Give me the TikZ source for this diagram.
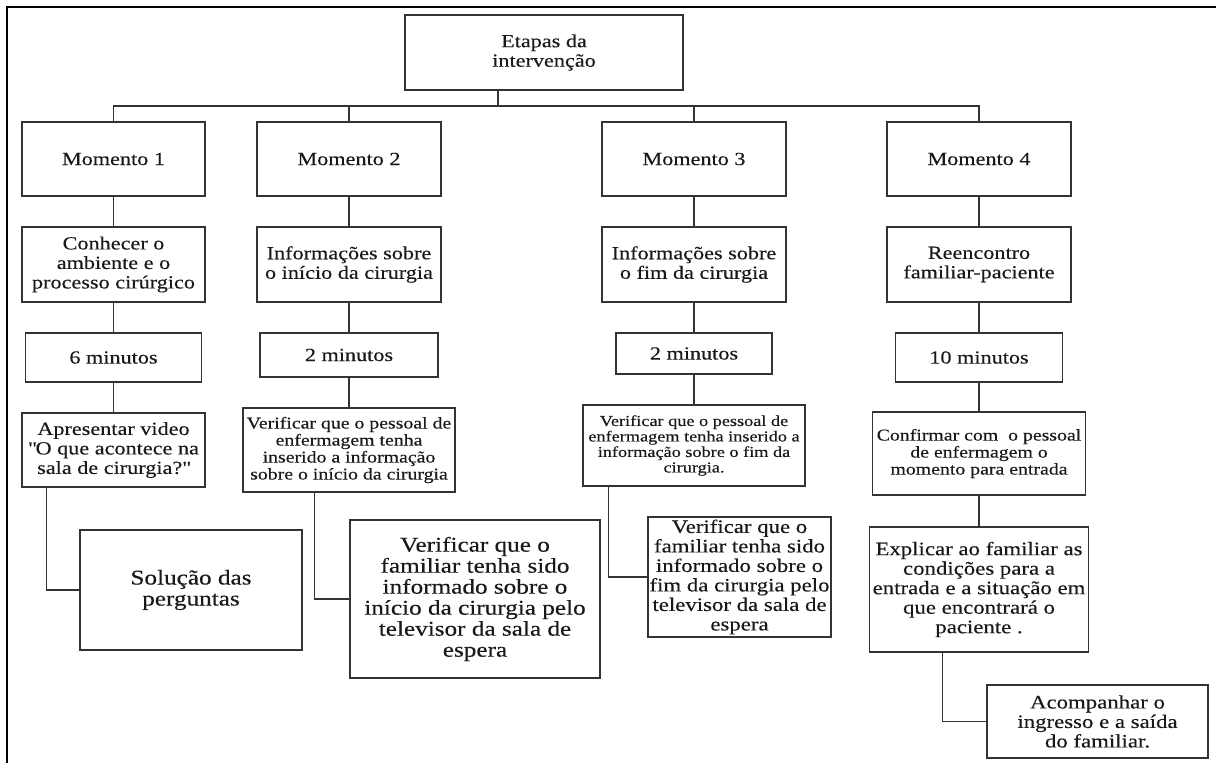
\documentclass[tikz,border=0pt]{standalone}
\usepackage{fontspec}
\setmainfont[FakeStretch=1.2, FakeBold=0.3]{Liberation Serif}
\usepackage{tikz}
\usetikzlibrary{positioning, calc}

\setlength{\lineskiplimit}{-100pt}
\newcommand{\txtbase}{\fontsize{18.5}{19.5}\selectfont}
\newcommand{\txtmed}{\fontsize{16.5}{17}\selectfont}
\newcommand{\txtsmall}{\fontsize{15.2}{15.5}\selectfont}
\newcommand{\txtmid}{\fontsize{19}{19.5}\selectfont}
\newcommand{\txtlarge}{\fontsize{21}{21}\selectfont}
\newcommand{\dq}{{\XeTeXglyph\XeTeXglyphindex "quotedbl"\relax}}

\begin{document}
\begin{tikzpicture}[x=1pt, y=-1pt,
    box/.style={draw=black!80, line width=1.3pt, align=center, inner sep=0pt, text=black!90, font=\txtbase},
    wire/.style={draw=black!80, line width=1.3pt}]
      \useasboundingbox (0,0) rectangle (1216,763);
      \draw[line width=2pt] (7,763) -- (7,7) -- (1216,7);

      \node[box, minimum width=278, minimum height=75] (root) at (544,52.5) {Etapas da\\intervenção};
      \coordinate (bus) at (0,106);

      \node[box, minimum width=183, minimum height=74] (m1) at (113.5,159) {Momento 1};
      \node[box, minimum width=184, minimum height=74] (m2) at (349,159) {Momento 2};
      \node[box, minimum width=184, minimum height=74] (m3) at (694,159) {Momento 3};
      \node[box, minimum width=184, minimum height=74] (m4) at (979,159) {Momento 4};

      \node[box, minimum width=183, minimum height=75] (r1) at (113.5,264.5) {Conhecer o\\ambiente e o\\processo cirúrgico};
      \node[box, minimum width=184, minimum height=75] (r2) at (349,264.5) {Informações sobre\\o início da cirurgia};
      \node[box, minimum width=184, minimum height=75] (r3) at (694,264.5) {Informações sobre\\o fim da cirurgia};
      \node[box, minimum width=184, minimum height=75] (r4) at (979,264.5) {Reencontro\\familiar-paciente};

      \node[box, minimum width=176, minimum height=49] (t1) at (113.5,357.5) {6 minutos};
      \node[box, minimum width=178, minimum height=44] (t2) at (349,355) {2 minutos};
      \node[box, minimum width=156, minimum height=41] (t3) at (694,353.5) {2 minutos};
      \node[box, minimum width=167, minimum height=49] (t4) at (979,357.5) {10 minutos};

      \node[box, minimum width=183, minimum height=74] (a1) at (113.5,450) {Apresentar video\\\dq O que acontece na\\sala de cirurgia?\dq};
      \node[box, font=\txtmed, minimum width=212, minimum height=84] (a2) at (349,450) {Verificar que o pessoal de\\enfermagem tenha\\inserido a informação\\sobre o início da cirurgia};
      \node[box, font=\txtsmall, minimum width=222, minimum height=81] (a3) at (694,445.5) {Verificar que o pessoal de\\enfermagem tenha inserido a\\informação sobre o fim da\\cirurgia.};
      \node[box, font=\txtmed, minimum width=213, minimum height=83] (a4) at (979,453.5) {Confirmar com\ \ o pessoal\\de enfermagem o\\momento para entrada};

      \node[box, font=\txtlarge, minimum width=222, minimum height=120] (b1) at (191,590) {Solução das\\perguntas};
      \node[box, font=\txtlarge, minimum width=250, minimum height=158] (b2) at (475,599) {Verificar que o\\familiar tenha sido\\informado sobre o\\início da cirurgia pelo\\televisor da sala de\\espera};
      \node[box, font=\txtmid, minimum width=183, minimum height=120] (b3) at (739.5,577) {Verificar que o\\familiar tenha sido\\informado sobre o\\fim da cirurgia pelo\\televisor da sala de\\espera};
      \node[box, font=\txtmid, minimum width=219, minimum height=125] (b4) at (979,589.5) {Explicar ao familiar as\\condições para a\\entrada e a situação em\\que encontrará o\\paciente .};
      \node[box, font=\txtmid, minimum width=221, minimum height=73] (c4) at (1097.5,721.5) {Acompanhar o\\ingresso e a saída\\do familiar.};

      \draw[wire] ([xshift=-46]root.south) -- ([xshift=-46]root.south |- bus);
      \draw[wire] (m1.north) -- (m1.north |- bus) -- (m4.north |- bus) -- (m4.north);
      \draw[wire] (m2.north) -- (m2.north |- bus);
      \draw[wire] (m3.north) -- (m3.north |- bus);

      \foreach \c in {1,2,3,4} {
        \draw[wire] (m\c.south) -- (r\c.north);
        \draw[wire] (r\c.south) -- (t\c.north);
        \draw[wire] (t\c.south) -- (a\c.north);
      }
      \draw[wire] (a4.south) -- (b4.north);

      \draw[wire] ([xshift=25]a1.south west) |- (b1.west);
      \draw[wire] ([xshift=72]a2.south west) |- (b2.west);
      \draw[wire] ([xshift=26]a3.south west) |- (b3.west);
      \draw[wire] ([xshift=73.5]b4.south west) |- (c4.west);
    \end{tikzpicture}
\end{document}
